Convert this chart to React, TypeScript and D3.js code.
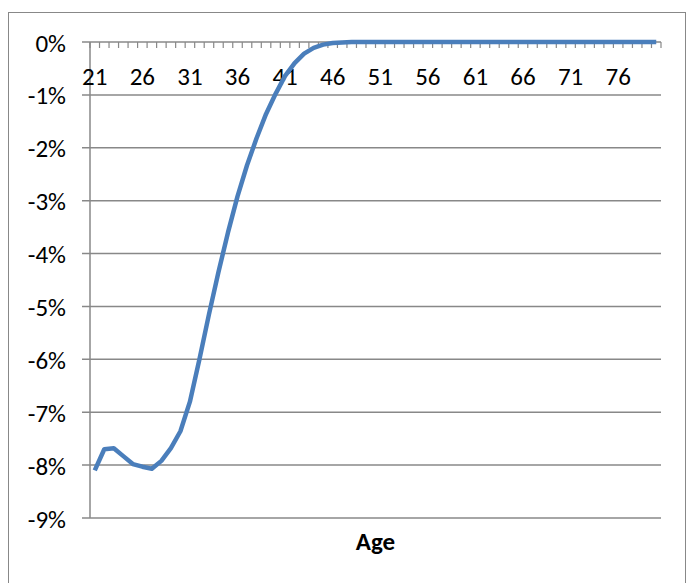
import React from "react";
import * as d3 from "d3";

const ages: number[] = d3.range(21, 81);
const valuesPct: number[] = [
  -8.10, -7.70, -7.68, -7.83, -7.98, -8.03, -8.07, -7.92, -7.68, -7.36,
  -6.80, -6.00, -5.15, -4.35, -3.60, -2.92, -2.33, -1.82, -1.36, -0.98,
  -0.64, -0.40, -0.22, -0.11, -0.05, -0.02, -0.01, 0, 0, 0,
  0, 0, 0, 0, 0, 0, 0, 0, 0, 0,
  0, 0, 0, 0, 0, 0, 0, 0, 0, 0,
  0, 0, 0, 0, 0, 0, 0, 0, 0, 0,
];
const yTicks: number[] = [0, -1, -2, -3, -4, -5, -6, -7, -8, -9];
const xLabelAges: number[] = [21, 26, 31, 36, 41, 46, 51, 56, 61, 66, 71, 76];
const xTitle = "Age";

const W = 693;
const H = 583;
const plot = { left: 90, right: 661, top: 42, bottom: 518 };
const FONT = "Carlito, Calibri, 'Open Sans', sans-serif";
const GRID = "#888888";
const FS = 25;

export default function App() {
  const x = d3
    .scaleBand<number>()
    .domain(ages)
    .range([plot.left, plot.right])
    .padding(0);
  const y = d3.scaleLinear().domain([0, -9]).range([plot.top, plot.bottom]);
  const bw = x.bandwidth();

  const line = d3
    .line<number>()
    .x((_, i) => (x(ages[i]) as number) + bw / 2)
    .y((v) => y(v));

  const boundaries = d3.range(ages.length + 1).map((i) => plot.left + i * bw);

  return (
    <svg
      width={W}
      height={H}
      style={{ position: "absolute", left: 0, top: 0, background: "#fff" }}
    >
      <rect x={8.5} y={12.5} width={677} height={620} fill="#fff" stroke={GRID} strokeWidth={1} />
      {yTicks.map((t) => (
        <g key={t}>
          <line x1={plot.left - 8} x2={plot.right} y1={y(t)} y2={y(t)} stroke={GRID} strokeWidth={1.5} />
          <text
            x={66}
            y={y(t) + 1}
            textAnchor="end"
            dominantBaseline="central"
            fontFamily={FONT}
            fontSize={FS}
            fill="#000"
          >
            {t === 0 ? "0%" : `${t}%`}
          </text>
        </g>
      ))}
      <line x1={plot.left} x2={plot.left} y1={plot.top} y2={plot.bottom} stroke={GRID} strokeWidth={1.5} />
      {boundaries.map((bx, i) => (
        <line key={i} x1={bx} x2={bx} y1={plot.top} y2={plot.top + 6} stroke={GRID} strokeWidth={1.2} />
      ))}
      {xLabelAges.map((a) => (
        <text
          key={a}
          x={(x(a) as number) + bw / 2}
          y={76}
          textAnchor="middle"
          dominantBaseline="central"
          fontFamily={FONT}
          fontSize={FS}
          fill="#000"
        >
          {a}
        </text>
      ))}
      <path d={line(valuesPct) || ""} fill="none" stroke="#4A7EBB" strokeWidth={4.5} strokeLinejoin="round" />
      <text
        x={(plot.left + plot.right) / 2}
        y={541}
        textAnchor="middle"
        dominantBaseline="central"
        fontFamily={FONT}
        fontSize={FS}
        fontWeight="bold"
        fill="#000"
      >
        {xTitle}
      </text>
    </svg>
  );
}
